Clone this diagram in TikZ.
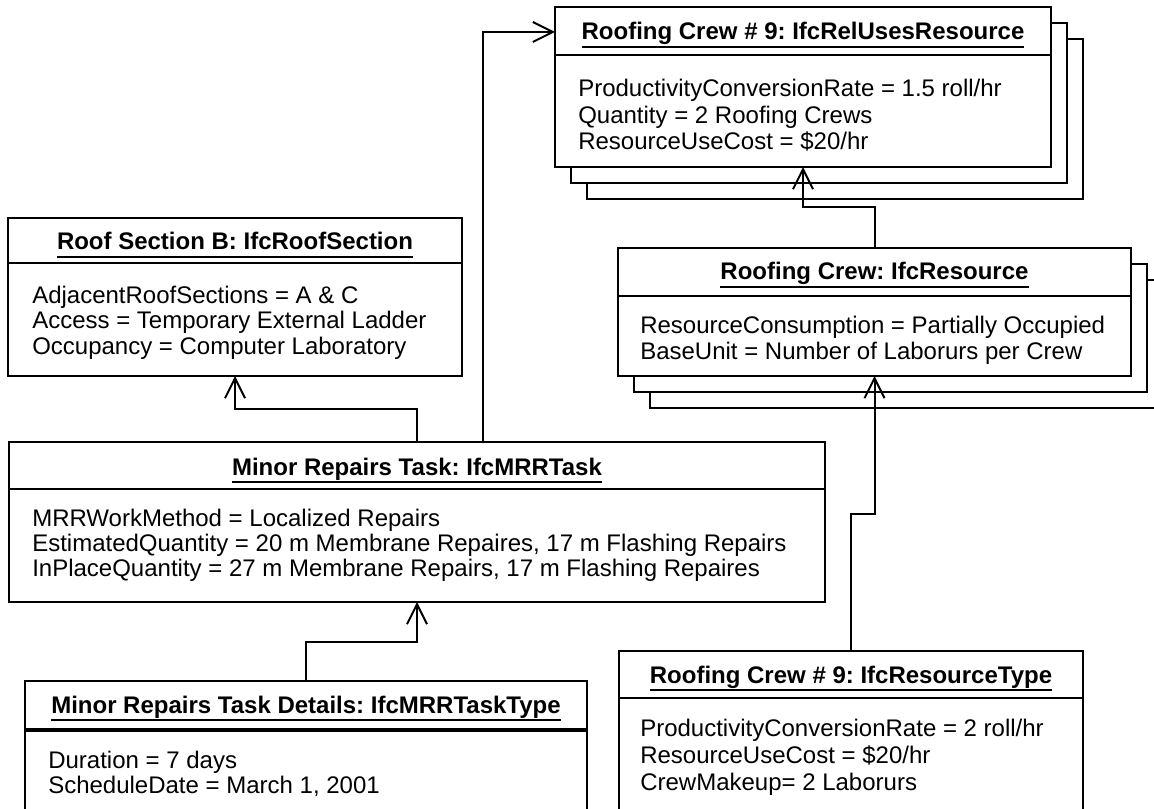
\documentclass[tikz,border=0pt]{standalone}
\usepackage{fontspec}
\setmainfont{Liberation Sans}
\usetikzlibrary{arrows.meta,calc}
\frenchspacing
% bold title with a heavy underline
\newcommand\ulx[1]{\setbox0=\hbox{#1}\rlap{\rule[-6pt]{\wd0}{1.5pt}}\box0}
\begin{document}
\begin{tikzpicture}[x=0.75pt,y=-0.75pt,
  umlbox/.style 2 args={draw, fill=white, line width=1.5pt,
    minimum width=#1*0.75pt, minimum height=#2*0.75pt,
    inner sep=0pt, outer sep=0pt, anchor=north west},
  hdr/.style={line width=1.5pt},
  ttl/.style={anchor=base, inner sep=0pt, font=\fontsize{18pt}{19.5pt}\selectfont\bfseries},
  % attribute lists are placed by the baseline of their last line
  attr/.style={anchor=base west, inner sep=0pt, align=left, font=\fontsize{18pt}{19.5pt}\selectfont},
  link/.style={line width=1.5pt, -{Straight Barb[length=15pt,width=15pt]}}]

\useasboundingbox (0,0) rectangle (1154,809);
\fill[white] (0,0) rectangle (1154,809);
\clip (0,0) rectangle (1154,809);

% Roofing Crew # 9: IfcRelUsesResource (stacked)
\node[umlbox={496}{160}] (relB) at (587,39) {};
\node[umlbox={496}{160}] (relA) at (571,23) {};
\node[umlbox={496}{160}] (rel) at (555,7) {};
\draw[hdr] ($(rel.north west)+(0,48)$) -- ($(rel.north east)+(0,48)$);
\node[ttl] (relT) at ($(rel.north)+(0,33)$) {\ulx{Roofing Crew \# 9: IfcRelUsesResource}};
\node[attr, font=\fontsize{18pt}{19.9pt}\selectfont] (relL) at ($(rel.north west)+(23,143)$)
  {ProductivityConversionRate = 1.5 roll/hr\\Quantity = 2 Roofing Crews\\ResourceUseCost = \$20/hr};

% Roof Section B: IfcRoofSection
\node[umlbox={454}{158}] (roof) at (8,218) {};
\draw[hdr] ($(roof.north west)+(0,45)$) -- ($(roof.north east)+(0,45)$);
\node[ttl] (roofT) at ($(roof.north)+(0,32)$) {\ulx{Roof Section B: IfcRoofSection}};
\node[attr] (roofL) at ($(roof.north west)+(24,137)$)
  {AdjacentRoofSections = A \& C\\Access = Temporary External Ladder\\Occupancy = Computer Laboratory};

% Roofing Crew: IfcResource (stacked)
\node[umlbox={513}{128}] (resB) at (650,280) {};
\node[umlbox={513}{128}] (resA) at (634,264) {};
\node[umlbox={513}{128}] (res) at (618,248) {};
\draw[hdr] ($(res.north west)+(0,48)$) -- ($(res.north east)+(0,48)$);
\node[ttl] (resT) at ($(res.north)+(0,32)$) {\ulx{Roofing Crew: IfcResource}};
\node[attr] (resL) at ($(res.north west)+(22,112)$)
  {ResourceConsumption = Partially Occupied\\BaseUnit = Number of Laborurs per Crew};

% Minor Repairs Task: IfcMRRTask
\node[umlbox={816}{160}] (mrr) at (9,442) {};
\draw[hdr] ($(mrr.north west)+(0,47)$) -- ($(mrr.north east)+(0,47)$);
\node[ttl] (mrrT) at ($(mrr.north)+(0,33)$) {\ulx{Minor Repairs Task: IfcMRRTask}};
\node[attr, font=\fontsize{18pt}{18.4pt}\selectfont] (mrrL) at ($(mrr.north west)+(23,134)$)
  {MRRWorkMethod = Localized Repairs\\EstimatedQuantity = 20 m Membrane Repaires, 17 m Flashing Repairs\\InPlaceQuantity = 27 m Membrane Repairs, 17 m Flashing Repaires};

% Minor Repairs Task Details: IfcMRRTaskType
\node[umlbox={562}{170}] (tt) at (25,681) {};
\draw[line width=2.5pt] ($(tt.north west)+(0,49)$) -- ($(tt.north east)+(0,49)$);
\node[ttl] (ttT) at ($(tt.north)+(0,32)$) {\ulx{Minor Repairs Task Details: IfcMRRTaskType}};
\node[attr, font=\fontsize{18pt}{18.75pt}\selectfont] (ttL) at ($(tt.north west)+(23,112)$)
  {Duration = 7 days\\ScheduleDate = March 1, 2001};

% Roofing Crew # 9: IfcResourceType
\node[umlbox={464}{180}] (rt) at (619,651) {};
\draw[hdr] ($(rt.north west)+(0,47)$) -- ($(rt.north east)+(0,47)$);
\node[ttl] (rtT) at ($(rt.north)+(0,32)$) {\ulx{Roofing Crew \# 9: IfcResourceType}};
\node[attr, font=\fontsize{18pt}{19.9pt}\selectfont] (rtL) at ($(rt.north west)+(21,139)$)
  {ProductivityConversionRate = 2 roll/hr\\ResourceUseCost = \$20/hr\\CrewMakeup= 2 Laborurs};

% connectors
\draw[link] (mrr.north) |- ($(mrr.north)!0.5!(roof.south)$) -| (roof.south);
\draw[link] ($(mrr.north west)+(474,0)$) |- ($(rel.north west)+(0,25)$);
\draw[link] (res.north) |- ($(res.north)!0.5!(rel.south)$) -| (rel.south);
\draw[link] (tt.north) |- ($(tt.north)!0.5!(mrr.south)$) -| (mrr.south);
\draw[link] (rt.north) |- ($(rt.north)!0.5!(res.south)$) -| (res.south);
\end{tikzpicture}
\end{document}
